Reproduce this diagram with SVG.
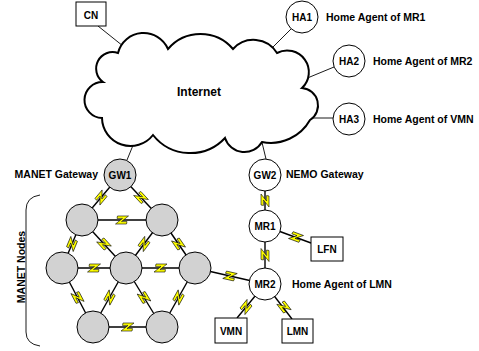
<svg xmlns="http://www.w3.org/2000/svg" xmlns:xlink="http://www.w3.org/1999/xlink" width="479" height="351" viewBox="0 0 479 351">
<style>
text{font-family:"Liberation Sans",Arial,sans-serif;font-weight:bold;fill:#000}
.lbl{font-size:10.5px}
.nl{font-size:10px;text-anchor:middle}
.thin{stroke:#000;stroke-width:0.9;fill:none}
.link{stroke:#000;stroke-width:1.4;fill:none}
.wn{fill:#fff;stroke:#000;stroke-width:1}
.gn{fill:#d2d2d2;stroke:#000;stroke-width:1}
.box{fill:#fff;stroke:#000;stroke-width:1}
.cloud{fill:#fff;stroke:#000;stroke-width:2}
.bolt{fill:#ffff00;stroke:#000;stroke-width:0.6;stroke-linejoin:miter}
</style>
<defs>
<polygon id="bolt" class="bolt" points="-4.5,-4 6.5,-4 -0.5,1.6 5,1.6 4.5,4 -6.5,4 0.5,-1.6 -5,-1.6"/>
</defs>
<g id="connectors">
<line class="thin" x1="98" y1="26" x2="128" y2="50"/>
<line class="thin" x1="291" y1="29" x2="268" y2="52"/>
<line class="thin" x1="334" y1="67" x2="305" y2="79"/>
<line class="thin" x1="333" y1="118" x2="305" y2="118"/>
<line class="thin" x1="266" y1="159" x2="259" y2="130"/>
<line class="thin" x1="127" y1="160" x2="136" y2="138"/>
<line class="link" x1="120" y1="175" x2="82" y2="220"/>
<line class="link" x1="120" y1="175" x2="162" y2="220"/>
<line class="link" x1="82" y1="220" x2="162" y2="220"/>
<line class="link" x1="82" y1="220" x2="62" y2="268"/>
<line class="link" x1="82" y1="220" x2="126" y2="268"/>
<line class="link" x1="162" y1="220" x2="126" y2="268"/>
<line class="link" x1="162" y1="220" x2="195" y2="268"/>
<line class="link" x1="62" y1="268" x2="126" y2="268"/>
<line class="link" x1="126" y1="268" x2="195" y2="268"/>
<line class="link" x1="62" y1="268" x2="93" y2="327"/>
<line class="link" x1="126" y1="268" x2="93" y2="327"/>
<line class="link" x1="126" y1="268" x2="162" y2="327"/>
<line class="link" x1="195" y1="268" x2="162" y2="327"/>
<line class="link" x1="93" y1="327" x2="162" y2="327"/>
<line class="link" x1="195" y1="268" x2="265" y2="284"/>
<line class="link" x1="265" y1="175" x2="265" y2="226"/>
<line class="link" x1="265" y1="226" x2="265" y2="284"/>
<line class="link" x1="265" y1="226" x2="311" y2="243"/>
<line class="link" x1="265" y1="284" x2="237" y2="318"/>
<line class="link" x1="265" y1="284" x2="292" y2="319"/>
<use xlink:href="#bolt" transform="translate(101,197.5) rotate(130)"/>
<use xlink:href="#bolt" transform="translate(141,197.5) rotate(47)"/>
<use xlink:href="#bolt" transform="translate(122,220)"/>
<use xlink:href="#bolt" transform="translate(72,244) rotate(112.6)"/>
<use xlink:href="#bolt" transform="translate(104,244) rotate(47.5)"/>
<use xlink:href="#bolt" transform="translate(144,244) rotate(126.9)"/>
<use xlink:href="#bolt" transform="translate(178.5,244) rotate(55.5)"/>
<use xlink:href="#bolt" transform="translate(94,268)"/>
<use xlink:href="#bolt" transform="translate(160.5,268)"/>
<use xlink:href="#bolt" transform="translate(77.5,297.5) rotate(62.3)"/>
<use xlink:href="#bolt" transform="translate(109.5,297.5) rotate(119.2)"/>
<use xlink:href="#bolt" transform="translate(144,297.5) rotate(58.6)"/>
<use xlink:href="#bolt" transform="translate(178.5,297.5) rotate(119.2)"/>
<use xlink:href="#bolt" transform="translate(127.5,327)"/>
<use xlink:href="#bolt" transform="translate(230,276) rotate(12.9)"/>
<use xlink:href="#bolt" transform="translate(265,200.5) rotate(90)"/>
<use xlink:href="#bolt" transform="translate(265,255) rotate(90)"/>
<use xlink:href="#bolt" transform="translate(296,237) rotate(20.3)"/>
<use xlink:href="#bolt" transform="translate(246,307) rotate(129.5)"/>
<use xlink:href="#bolt" transform="translate(284,307) rotate(52.4)"/>
</g>
<g id="internet">
<path class="cloud" d="M103,82 A16.5,16.5 0 0 1 118,53 A26.5,26.5 0 0 1 168,49 A42.7,42.7 0 0 1 233,49 A27.5,27.5 0 0 1 277,53 A21.7,21.7 0 0 1 302,88 A17.4,17.4 0 0 1 310,120 A45,45 0 0 1 262,142 A20.4,20.4 0 0 1 225,138 A47.5,47.5 0 0 1 153,135 A28.5,28.5 0 0 1 102,118 A18,18 0 0 1 103,82 Z"/>
<text x="199" y="96" style="font-size:12px;text-anchor:middle">Internet</text>
</g>
<g id="cn"><rect class="box" x="76" y="2" width="30" height="24"/><text class="nl" x="91" y="18.5">CN</text></g>
<g id="ha1"><circle class="wn" cx="302" cy="17" r="16"/><text class="nl" x="302" y="20.5">HA1</text><text class="lbl" x="326" y="20.5">Home Agent of MR1</text></g>
<g id="ha2"><circle class="wn" cx="349" cy="61" r="16"/><text class="nl" x="349" y="64.5">HA2</text><text class="lbl" x="373" y="64.5">Home Agent of MR2</text></g>
<g id="ha3"><circle class="wn" cx="349" cy="119" r="16"/><text class="nl" x="349" y="122.5">HA3</text><text class="lbl" x="373" y="122.5">Home Agent of VMN</text></g>
<g id="gw1"><circle class="gn" cx="120" cy="175" r="16"/><text class="nl" x="120" y="178.5">GW1</text><text class="lbl" x="98" y="178" style="text-anchor:end">MANET Gateway</text></g>
<g id="gw2"><circle class="wn" cx="265" cy="175" r="16"/><text class="nl" x="265" y="178.5">GW2</text><text class="lbl" x="286" y="178">NEMO Gateway</text></g>
<g id="mr1"><circle class="wn" cx="265" cy="226" r="16"/><text class="nl" x="265" y="229.5">MR1</text></g>
<g id="mr2"><circle class="wn" cx="265" cy="284" r="16"/><text class="nl" x="265" y="287.5">MR2</text><text class="lbl" x="292" y="287.5">Home Agent of LMN</text></g>
<g id="lfn"><rect class="box" x="311" y="237" width="32" height="24"/><text class="nl" x="327" y="252.5">LFN</text></g>
<g id="vmn"><rect class="box" x="215" y="318" width="32" height="25"/><text class="nl" x="231" y="334.5">VMN</text></g>
<g id="lmn"><rect class="box" x="282" y="319" width="31" height="24"/><text class="nl" x="297.5" y="334.5">LMN</text></g>
<g id="n1"><circle class="gn" cx="82" cy="220" r="16"/></g>
<g id="n2"><circle class="gn" cx="162" cy="220" r="16"/></g>
<g id="n3"><circle class="gn" cx="62" cy="268" r="16"/></g>
<g id="n4"><circle class="gn" cx="126" cy="268" r="16"/></g>
<g id="n5"><circle class="gn" cx="195" cy="268" r="16"/></g>
<g id="n6"><circle class="gn" cx="93" cy="327" r="16"/></g>
<g id="n7"><circle class="gn" cx="162" cy="327" r="16"/></g>
<g id="manet-nodes">
<path class="thin" d="M40,195 Q26,197 26,210 L26,332 Q26,344 40,346"/>
<text class="lbl" transform="translate(25,267) rotate(-90)" style="text-anchor:middle">MANET Nodes</text>
</g>
</svg>
